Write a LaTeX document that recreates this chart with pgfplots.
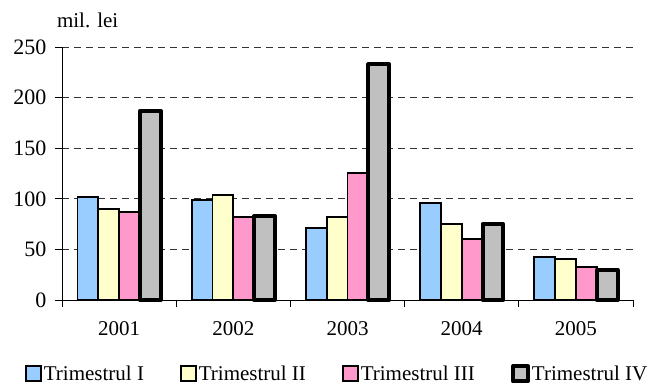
\documentclass[border=0pt]{standalone}
\usepackage{fontspec}
\setmainfont{Liberation Serif}
\usepackage{pgfplots}
\pgfplotsset{compat=1.18}

\definecolor{tri1}{HTML}{99CCFF}
\definecolor{tri2}{HTML}{FFFFCC}
\definecolor{tri3}{HTML}{FF99CC}
\definecolor{tri4}{HTML}{C0C0C0}

\begin{document}
\begin{tikzpicture}[font=\fontsize{21}{25}\selectfont]
\begin{axis}[
    at={(0,0)}, anchor=south west,
    scale only axis,
    width=571pt, height=253pt,
    ybar=0pt, bar width=20.8pt,
    xmin=-0.5, xmax=4.5,
    ymin=0, ymax=250,
    enlargelimits=false,
    axis lines=left,
    axis line style={-, line width=0.9pt},
    xtick={0,1,2,3,4},
    xticklabels={2001,2002,2003,2004,2005},
    minor xtick={-0.5,0.5,1.5,2.5,3.5,4.5},
    ytick={0,50,100,150,200,250},
    major x tick style={draw=none},
    tick align=outside,
    major tick length=7pt,
    minor tick length=7pt,
    tick style={black, line width=0.9pt},
    ymajorgrids,
    major grid style={black!80, line width=0.8pt, dash pattern=on 7pt off 5pt},
    /pgf/number format/assume math mode=true,
    yticklabel style={xshift=-5pt, font=\fontsize{22}{26}\selectfont},
    xticklabel style={yshift=-11pt},
    clip=false,
    legend columns=4,
    legend style={at={(rel axis cs:-0.065,-0.292)}, anchor=west, draw=none, fill=none,
        inner sep=0pt, nodes={inner sep=2pt},
        /tikz/every even column/.append style={column sep=34pt}},
    legend image code/.code={\draw[#1] (0pt,-7.5pt) rectangle (15pt,7.5pt);},
]
\addplot[fill=tri1, draw=black, line width=1.8pt] coordinates {(0,101.5) (1,98.8) (2,71) (3,95.5) (4,42.2)};
\addplot[fill=tri2, draw=black, line width=1.8pt] coordinates {(0,89.6) (1,103.5) (2,82.3) (3,75) (4,40.2)};
\addplot[fill=tri3, draw=black, line width=1.8pt] coordinates {(0,87) (1,81.7) (2,125.8) (3,60.6) (4,33)};
\addplot[fill=tri4, draw=black, line width=4pt, line join=round] coordinates {(0,187) (1,83) (2,233) (3,75) (4,29.6)};
\legend{Trimestrul I, Trimestrul II, Trimestrul III, Trimestrul IV}
\node[anchor=west, inner sep=0pt] at (rel axis cs:-0.009,1.107) {mil. lei};
\end{axis}
\pgfresetboundingbox
\path (-62pt,-85pt) rectangle (588pt,300pt);
\end{tikzpicture}
\end{document}
